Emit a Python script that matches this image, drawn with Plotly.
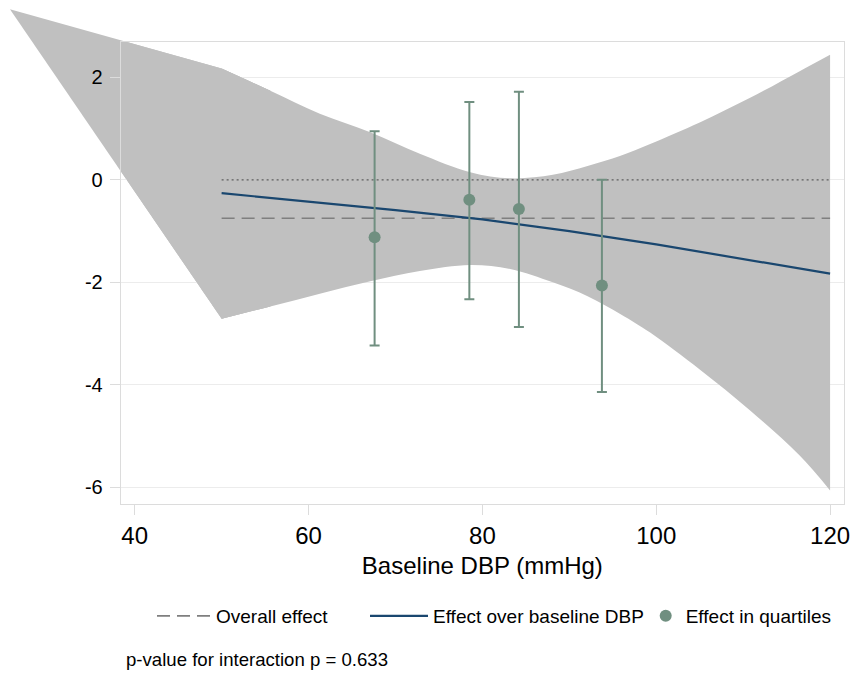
import plotly.graph_objects as go

# Effect in quartiles of baseline DBP (point estimate with 95% CI)
q_dbp = [67.6, 78.5, 84.2, 93.75]
q_effect = [-1.12, -0.39, -0.57, -2.06]
q_lower = [-3.23, -2.33, -2.87, -4.14]
q_upper = [0.95, 1.52, 1.72, 0.00]

# Continuous effect over baseline DBP and its confidence band
band_x = [50, 55.6, 61.3, 67.1, 72.8, 78.6, 83.2, 88.1, 92.1, 95.9, 99.3, 105.0, 110.8, 116.5, 120]
band_upper = [2.17, 1.74, 1.29, 0.93, 0.51, 0.15, 0.03, 0.10, 0.27, 0.47, 0.70, 1.12, 1.60, 2.12, 2.44]
band_lower = [-2.71, -2.47, -2.22, -1.98, -1.78, -1.66, -1.74, -2.00, -2.27, -2.62, -2.98, -3.70, -4.50, -5.38, -6.06]
band_apex_x = 25.65
band_apex_y = 3.33

line_x = [50, 60, 70, 80, 90, 100, 110, 120]
line_effect = [-0.26, -0.42, -0.59, -0.77, -1.00, -1.26, -1.54, -1.83]

overall_effect = -0.75
ref_x = [50, 120]

x_ticks = [40, 60, 80, 100, 120]
y_ticks = [-6, -4, -2, 0, 2]
y_tick_text = ["-6", "-4", "-2", "0", "2"]

# Axis ranges and plot-area placement (paper fractions)
x_range = [38.39, 121.6]
y_range = [-6.33, 2.695]
x_dom = [120.7 / 854, 844 / 854]
y_dom = [(675 - 504.3) / 675, (675 - 41.7) / 675]


def full_range(r, dom):
    # range of an axis spanning the whole figure with the same scale
    per = (r[1] - r[0]) / (dom[1] - dom[0])
    return [r[0] - dom[0] * per, r[1] + (1 - dom[1]) * per]


FONT = "Liberation Sans, Arial, sans-serif"
BAND = "#c0c0c0"
NAVY = "#1a476f"
SAGE = "#708f80"
FRAME = "#dcdcdc"

# wedge joining the apex to the start of the band (overlaps the first segment)
wedge_x = [band_apex_x, band_x[0], band_x[1], band_x[1], band_x[0], band_apex_x]
wedge_y = [band_apex_y, band_upper[0], band_upper[1], band_lower[1], band_lower[0], band_apex_y]

fig = go.Figure()

# wedge on a figure-wide axis pair, so it may spill past the frame
fig.add_trace(go.Scatter(
    x=wedge_x, y=wedge_y, xaxis="x", yaxis="y", mode="lines",
    fill="toself", fillcolor=BAND, line=dict(width=0, color=BAND),
    showlegend=False, hoverinfo="skip"))

# the same wedge and the smooth band inside the framed plot
fig.add_trace(go.Scatter(
    x=wedge_x, y=wedge_y, xaxis="x2", yaxis="y2", mode="lines",
    fill="toself", fillcolor=BAND, line=dict(width=0, color=BAND),
    showlegend=False, hoverinfo="skip"))
fig.add_trace(go.Scatter(
    x=band_x, y=band_lower, xaxis="x2", yaxis="y2", mode="lines",
    line=dict(width=0, color=BAND, shape="spline", smoothing=1.0),
    showlegend=False, hoverinfo="skip"))
fig.add_trace(go.Scatter(
    x=band_x, y=band_upper, xaxis="x2", yaxis="y2", mode="lines",
    fill="tonexty", fillcolor=BAND,
    line=dict(width=0, color=BAND, shape="spline", smoothing=1.0),
    showlegend=False, hoverinfo="skip"))

fig.add_trace(go.Scatter(
    x=ref_x, y=[0, 0], xaxis="x2", yaxis="y2", mode="lines",
    line=dict(color="#5e5e5e", width=1.4, dash="2px,3px"),
    showlegend=False, hoverinfo="skip"))

fig.add_trace(go.Scatter(
    x=ref_x, y=[overall_effect, overall_effect], xaxis="x2", yaxis="y2",
    mode="lines", name="Overall effect", legend="legend",
    line=dict(color="#7f7f7f", width=1.6, dash="13px,7px")))

fig.add_trace(go.Scatter(
    x=line_x, y=line_effect, xaxis="x2", yaxis="y2", mode="lines",
    name="Effect over baseline DBP", legend="legend2",
    line=dict(color=NAVY, width=2.2)))

fig.add_trace(go.Scatter(
    x=q_dbp, y=q_effect, xaxis="x2", yaxis="y2", mode="markers",
    name="Effect in quartiles", legend="legend3",
    marker=dict(color=SAGE, size=12),
    error_y=dict(type="data", symmetric=False,
                 array=[u - e for u, e in zip(q_upper, q_effect)],
                 arrayminus=[e - l for e, l in zip(q_effect, q_lower)],
                 color=SAGE, thickness=2, width=5)))

legend_y = (675 - 616) / 675
legend_common = dict(orientation="h", xanchor="left", y=legend_y, yanchor="middle",
                     font=dict(size=19, family=FONT), bgcolor="rgba(0,0,0,0)")

fig.update_layout(
    width=854, height=675,
    margin=dict(l=0, r=0, t=0, b=0, autoexpand=False),
    paper_bgcolor="white", plot_bgcolor="rgba(0,0,0,0)",
    font=dict(family=FONT, color="#000000"),
    xaxis=dict(domain=[0, 1], range=full_range(x_range, x_dom), visible=False,
               fixedrange=True),
    yaxis=dict(domain=[0, 1], range=full_range(y_range, y_dom), visible=False,
               fixedrange=True),
    xaxis2=dict(domain=x_dom, anchor="y2", range=x_range,
                tickvals=x_ticks, ticks="outside", ticklen=10, tickcolor=FRAME,
                showline=True, linecolor=FRAME, linewidth=1, mirror=True,
                showgrid=False, zeroline=False,
                tickfont=dict(size=24, family=FONT),
                title=dict(text="Baseline DBP (mmHg)", font=dict(size=24, family=FONT),
                           standoff=9)),
    yaxis2=dict(domain=y_dom, anchor="x2", range=y_range,
                tickvals=y_ticks, ticktext=y_tick_text,
                ticks="outside", ticklen=10, tickcolor=FRAME,
                showline=True, linecolor=FRAME, linewidth=1, mirror=True,
                showgrid=True, gridcolor="#ececec", gridwidth=1, zeroline=False,
                tickfont=dict(size=20, family=FONT), ticklabelstandoff=3),
    legend=dict(x=152 / 854, itemwidth=54, **legend_common),
    legend2=dict(x=365 / 854, itemwidth=58, **legend_common),
    legend3=dict(x=645.7 / 854, itemwidth=30, **legend_common),
    annotations=[dict(text="p-value for interaction p = 0.633", xref="paper", yref="paper",
                      x=124 / 854, y=(675 - 659) / 675, xanchor="left", yanchor="middle",
                      showarrow=False, font=dict(size=18.6, family=FONT))],
    showlegend=True,
)

fig.write_html("out.html")
